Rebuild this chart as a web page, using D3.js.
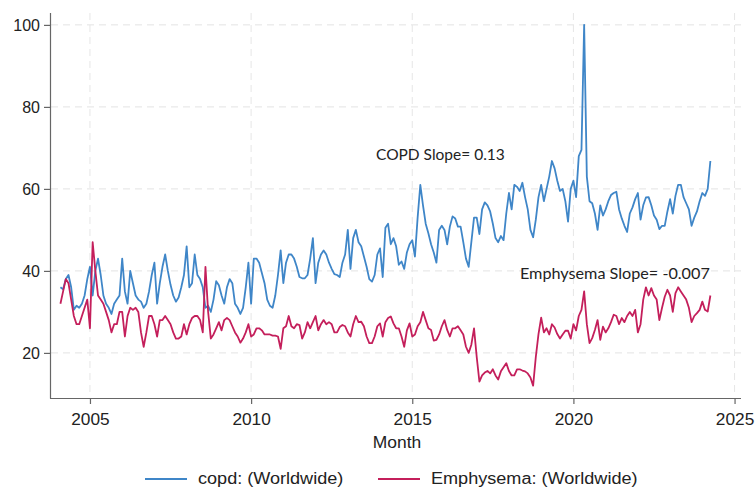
<!DOCTYPE html>
<html>
<head>
<meta charset="utf-8">
<script src="https://cdn.jsdelivr.net/npm/d3@7"></script>
<style>
  body { margin: 0; background: #fff; }
  svg { font-family: "Liberation Sans", Arial, sans-serif; }
</style>
</head>
<body>
<svg class="trends" width="755" height="489"></svg>
<script>
// monthly search interest, first point Jan 2004
let startYear = 2004

let copd = [
  36, 35.5, 38, 39, 36, 30.5, 31.5, 31, 32, 34, 38, 41,
  34, 40, 43, 39, 34, 32, 31, 29.5, 32, 33, 34, 43,
  35, 32, 40, 37, 34, 33, 32.5, 31, 32, 35, 39, 42,
  32, 37, 41, 44, 40, 36.6, 34, 32.5, 33.5, 36, 39, 46,
  36, 37, 44, 39, 38, 36, 31, 31.5, 30, 33, 37.5, 36.5,
  34, 32, 36, 38, 37, 32, 31,
  29.5, 31, 36, 42, 32, 43, 43, 42, 39.5, 37, 33, 31.5,
  31, 34, 39, 45, 37, 42, 44, 44, 43, 41, 38.5, 38.2,
  38.2, 39, 43, 48, 37, 42, 44, 45, 44, 42, 40.5, 39.2,
  39, 38.5, 42, 44, 50, 40.5, 48, 50, 47, 46, 43.5, 41,
  38, 37.4, 39, 44, 45.5, 38.5, 50.5, 51.5, 46.5, 48, 46, 41.5,
  42.3, 40.5, 44.5, 46.5, 47.5, 43.5, 53, 61, 56, 51.5, 49.2, 46.5,
  44.5, 42, 50, 51, 50, 46.5, 50.8, 53.3, 52.8, 50.8, 50.8, 47,
  43, 41, 47, 53, 53, 49, 55, 56.7, 56, 54.5, 51.5, 48,
  47, 48.5, 47.5, 54, 59, 55, 61, 60.5, 59.5, 61.5, 58, 55,
  50, 48.2, 52.5, 58, 61, 57, 60, 63, 66.8, 65, 62, 59.5,
  60, 57, 52,
  60, 62, 58, 68, 69.5, 100, 63, 57, 56.5, 54, 50, 56, 53.5, 55, 57,
  58.5, 59, 59.3, 55, 52.8, 51, 49.5, 54, 55.5, 57.5, 59, 52.5, 56, 57.9, 58,
  56, 53.5, 52.5, 50.2, 51, 51, 54.5, 57.5, 54, 58.3, 61, 61,
  58, 56.5, 55, 51, 53, 54.5, 57, 59, 58.3, 60, 66.8
]

let emphysema = [
  32, 35, 38, 37, 33, 29, 27, 27, 29, 31, 33, 26,
  47, 40, 34, 33, 32, 30, 28, 25, 27, 27, 30, 30,
  24, 29, 31, 30.5, 31, 30, 25, 21.5, 25, 29, 29, 27,
  24, 28, 28, 29, 28, 27, 25, 23.5, 23.5, 24, 27, 24.5,
  27, 28.5, 29, 29, 28, 25, 41, 30, 23.5, 24.5, 26, 27.5,
  25.5, 28, 28.5, 28, 26.5, 25, 24,
  22.5, 23.5, 25, 27, 24, 24.5, 26, 26, 25.5, 24.5, 24.5, 24.5,
  24.2, 24.2, 24, 21, 26, 26.5, 29, 26.5, 26, 27, 26.8, 23.5,
  25, 27.5, 26, 27.5, 29, 25.5, 27, 28, 27, 27.5, 27, 25,
  25, 26.3, 26.8, 26.5, 25, 24, 27, 29, 27.5, 27.6, 26.5, 24,
  22.4, 22.4, 24, 26.5, 27.2, 24, 27.5, 28.5, 28.9, 27.2, 26, 26,
  24, 21.5, 25.5, 27.2, 24, 24.5, 26.5, 27.5, 30, 28, 26, 25.6,
  23, 23.2, 24.5, 26.5, 28, 25.6, 24, 26, 26, 26.5, 25.5, 24.5,
  21.5, 20, 22, 26, 19, 13, 14.5, 15.2, 15.6, 15, 16, 14.5,
  13.5, 15.5, 16.5, 17.5, 15.6, 14.5, 14.5, 16, 16, 15.7, 15.5, 15,
  14, 12, 19, 24.6, 28.6, 25, 26, 24.5, 27, 26.2, 24.6, 23.5,
  24.5, 25.4, 25.4,
  23.5, 27, 25.5, 29, 30.5, 35, 27, 22.4, 23.6, 25.6, 28, 23.2, 26.4, 25, 26,
  27.5, 29.3, 29, 27, 28.5, 27.5, 29, 30, 29, 30.5, 25, 27, 33, 36, 34,
  35.8, 34, 33, 28, 31, 33.7, 35.4, 34, 30, 34.6, 36, 35,
  34, 33, 31, 27.5, 29, 29.7, 30.5, 32.5, 30.5, 30.1, 34
]

let xTicks = [2005, 2010, 2015, 2020, 2025]
let yTicks = [20, 40, 60, 80, 100]
let seriesNames = ['copd: (Worldwide)', 'Emphysema: (Worldwide)']
let seriesColors = ['#3f86c8', '#c41f5b']

// month position as fractional year
let month = (d, i) => startYear + (i + 1) / 12

let svg = d3.select('.trends')

let x = d3.scaleLinear().domain([2003.76, 2025.2]).range([50, 741])
let y = d3.scaleLinear().domain([9, 102.9]).range([398, 13])

// grid
svg.append('g').selectAll('line')
    .data(yTicks)
    .enter().append('line')
    .attr('x1', 51).attr('x2', 741)
    .attr('y1', d => y(d)).attr('y2', d => y(d))
    .attr('stroke', '#e3e3e3')
    .attr('stroke-dasharray', '7,5')

svg.append('g').selectAll('line')
    .data(xTicks)
    .enter().append('line')
    .attr('x1', d => x(d)).attr('x2', d => x(d))
    .attr('y1', 13).attr('y2', 397)
    .attr('stroke', '#e6e6e6')
    .attr('stroke-dasharray', '7,5')

// axes
let yAxis = svg.append('g').attr('class', 'axis y')
    .attr('transform', 'translate(50,0)')
    .call(d3.axisLeft(y).tickValues(yTicks).tickSize(6).tickPadding(4))

let xAxis = svg.append('g').attr('class', 'axis x')
    .attr('transform', 'translate(0,398)')
    .call(d3.axisBottom(x).tickValues(xTicks).tickFormat(d3.format('d')).tickSize(6).tickPadding(10))

svg.selectAll('.axis path, .axis line').attr('stroke', '#666').attr('stroke-width', 1.2)
svg.selectAll('.axis text').attr('font-size', 16).attr('fill', '#222')
    .attr('font-family', '"Liberation Sans", Arial, sans-serif')
// the source image is a little stretched sideways
xAxis.selectAll('text').attr('transform', 'scale(1.08,1)')
yAxis.select('.domain').attr('d', 'M0.5,13V398.5')
xAxis.select('.domain').attr('d', 'M50,0.5H741')

// lines
let line = d3.line().x((d, i) => x(month(d, i))).y(d => y(d))

;[copd, emphysema].forEach((s, i) => {
  svg.append('path')
      .datum(s)
      .attr('fill', 'none')
      .attr('stroke', seriesColors[i])
      .attr('stroke-width', 1.8)
      .attr('stroke-linejoin', 'round')
      .attr('d', line)
})

// slope notes
svg.append('text')
    .attr('x', 376).attr('y', 160)
    .attr('font-family', 'Lato, "Open Sans", sans-serif')
    .attr('font-size', 15.5)
    .attr('fill', '#222')
    .text('COPD Slope= 0.13')

svg.append('text')
    .attr('x', 520).attr('y', 279)
    .attr('font-family', 'Lato, "Open Sans", sans-serif')
    .attr('font-size', 16.2)
    .attr('fill', '#222')
    .text('Emphysema Slope= -0.007')

// axis title
svg.append('text')
    .attr('transform', 'translate(397,448) scale(1.09,1)')
    .attr('text-anchor', 'middle')
    .attr('font-size', 16)
    .attr('fill', '#222')
    .text('Month')

// legend
let legendX = [145, 378]
let legend = svg.append('g').selectAll('g')
    .data(seriesNames)
    .enter().append('g')
    .attr('transform', (d, i) => 'translate(' + legendX[i] + ',479)')

legend.append('line')
    .attr('x1', 0).attr('x2', 42)
    .attr('stroke', (d, i) => seriesColors[i])
    .attr('stroke-width', 2)

legend.append('text')
    .attr('transform', 'translate(53,4.5) scale(1.13,1)')
    .attr('font-size', 16)
    .attr('fill', '#222')
    .text(d => d)
</script>
</body>
</html>
